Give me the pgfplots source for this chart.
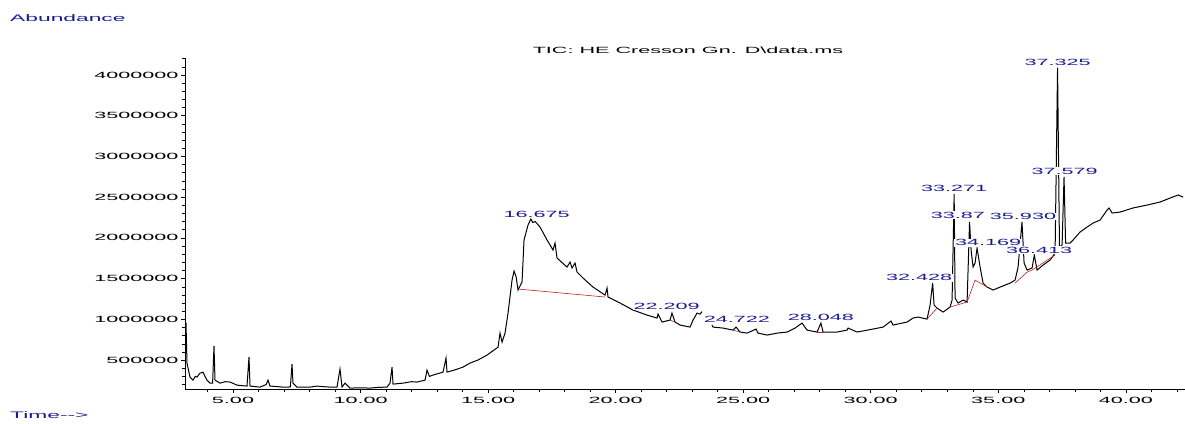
\documentclass[border=0pt]{standalone}
\usepackage{pgfplots}
\pgfplotsset{compat=1.18}
\usepackage{fontspec}
\setmainfont{Liberation Sans}
\newfontfamily\chem[FakeStretch=2.4]{Liberation Sans}
\definecolor{lblue}{RGB}{25,25,145}
\definecolor{bred}{RGB}{185,35,35}
\begin{document}
\begin{tikzpicture}
\useasboundingbox (-185pt,-34pt) rectangle (1000pt,389pt);
\begin{axis}[
  at={(0pt,0pt)}, anchor=south west,
  width=1000pt, height=331pt, scale only axis,
  xmin=3.118, xmax=42.32, ymin=145000, ymax=4208000,
  axis x line=bottom, axis y line=left,
  axis line style={-, line width=0.6pt},
  xtick={5,10,...,40},
  xticklabels={5.00,10.00,15.00,20.00,25.00,30.00,35.00,40.00},
  minor xtick={4,...,42},
  ytick={500000,1000000,...,4000000},
  yticklabels={500000,1000000,1500000,2000000,2500000,3000000,3500000,4000000},
  minor ytick={200000,300000,...,4200000},
  scaled y ticks=false,
  tick align=outside,
  major tick length=4pt, minor tick length=2.5pt,
  tick style={black, line width=0.5pt},
  /pgf/number format/assume math mode=true,
  ticklabel style={font=\chem\fontsize{9}{9}\selectfont},
  xticklabel style={yshift=-1pt},
  yticklabel style={xshift=1pt},
  unbounded coords=jump,
  clip=false,
]
\addplot[black, line width=1pt] coordinates {
(3.157,960000) (3.196,463000) (3.314,291000) (3.432,254000) (3.520,300000) (3.589,291000) (3.706,340000) (3.824,352000) (3.900,300000) (3.981,254000) (4.098,217000) (4.200,217000) (4.255,672000) (4.294,254000) (4.490,217000) (4.700,235000) (4.882,230000) (5.157,193000) (5.400,185000) (5.549,181000) (5.627,537000) (5.667,181000) (6.059,168000) (6.300,200000) (6.372,254000) (6.451,181000) (6.700,175000) (6.960,168000) (7.250,170000) (7.313,451000) (7.352,217000) (7.509,168000) (8.019,168000) (8.293,181000) (8.500,175000) (8.803,168000) (9.077,168000) (9.195,389000) (9.274,168000) (9.391,217000) (9.587,156000) (10.0,160000) (10.371,156000) (10.7,165000) (11.038,168000) (11.155,217000) (11.234,414000) (11.273,205000) (11.665,217000) (12.000,235000) (12.214,230000) (12.528,254000) (12.606,377000) (12.700,300000) (12.841,316000) (13.233,352000) (13.351,524000) (13.390,352000) (13.700,380000) (14.018,414000) (14.292,463000) (14.600,500000) (14.958,561000) (15.390,659000) (15.468,831000) (15.547,721000) (15.664,831000) (15.782,1077000) (15.939,1482000) (16.017,1593000) (16.100,1520000) (16.174,1360000) (16.331,1458000) (16.409,1974000) (16.566,2158000) (16.675,2231000) (16.750,2190000) (16.850,2200000) (17.036,2133000) (17.311,1974000) (17.546,1851000) (17.624,1937000) (17.703,1752000) (18.095,1642000) (18.213,1703000) (18.291,1630000) (18.409,1691000) (18.487,1581000) (18.722,1507000) (19.114,1396000) (19.585,1298000) (19.663,1384000) (19.702,1274000) (20.173,1200000) (20.683,1114000) (21.232,1052000) (21.624,1016000) (21.663,1065000) (21.820,967000) (22.133,991000) (22.209,1077000) (22.329,967000) (22.525,930000) (22.917,905000) (23.035,991000) (23.192,1077000) (23.310,1065000) (23.388,1095000)
(23.500,nan)
(23.780,930000) (23.819,905000) (24.211,893000) (24.603,868000) (24.722,905000) (24.878,844000) (25.153,831000) (25.505,881000) (25.584,831000) (25.937,807000) (26.329,831000) (26.721,844000) (27.034,893000) (27.309,954000) (27.505,868000) (27.897,844000) (28.048,954000) (28.132,844000) (28.681,844000) (29.073,868000) (29.112,893000) (29.465,844000) (30.092,881000) (30.484,905000) (30.798,979000) (30.876,930000) (31.425,967000) (31.660,1016000) (31.856,1028000) (32.209,1003000) (32.327,1175000) (32.428,1445000) (32.484,1175000) (32.601,1138000) (32.837,1089000) (33.111,1151000) (33.190,1237000) (33.271,2540000) (33.307,1261000) (33.425,1200000) (33.621,1237000) (33.778,1212000) (33.875,2195000) (33.935,1851000) (34.013,1642000) (34.091,1691000) (34.169,1875000) (34.288,1642000) (34.405,1445000) (34.562,1396000) (34.797,1360000) (35.072,1396000) (35.464,1445000) (35.660,1482000) (35.777,1642000) (35.930,2195000) (36.013,1691000) (36.130,1605000) (36.326,1630000) (36.413,1789000) (36.522,1605000) (36.758,1667000) (37.032,1728000) (37.228,1814000) (37.325,4090000) (37.400,1888000) (37.502,1912000) (37.579,2750000) (37.640,1937000) (37.816,1937000) (37.934,1974000) (38.208,2072000) (38.483,2133000) (38.718,2182000) (38.993,2219000) (39.267,2342000) (39.345,2367000) (39.463,2305000) (39.776,2317000) (40.286,2367000) (40.835,2403000) (41.345,2440000) (41.737,2489000) (42.051,2526000) (42.247,2500000)
};
\addplot[bred, line width=0.6pt] coordinates {(16.174,1372000) (19.590,1274000)};
\addplot[bred, line width=0.6pt] coordinates {(22.133,991000) (22.329,967000)};
\addplot[bred, line width=0.6pt] coordinates {(24.603,868000) (24.878,844000)};
\addplot[bred, line width=0.6pt] coordinates {(27.897,844000) (28.132,844000)};
\addplot[bred, line width=0.6pt] coordinates {(32.209,1003000) (32.601,1138000)};
\addplot[bred, line width=0.6pt] coordinates {(33.111,1151000) (33.778,1212000) (34.091,1482000) (34.562,1396000)};
\addplot[bred, line width=0.6pt] coordinates {(35.660,1445000) (36.130,1580000) (36.326,1605000) (37.228,1790000)};
\begin{scope}[every node/.style={font=\chem\fontsize{9}{9}\selectfont, text=lblue, fill=white, inner sep=0.6pt}]
\node at (axis cs:16.9,2290000) {16.675};
\node at (axis cs:22.0,1160000) {22.209};
\node at (axis cs:24.75,1000000) {24.722};
\node at (axis cs:28.05,1030000) {28.048};
\node at (axis cs:31.9,1510000) {32.428};
\node at (axis cs:33.27,2610000) {33.271};
\node at (axis cs:33.42,2280000) {33.87};
\node at (axis cs:35.97,2260000) {35.930};
\node at (axis cs:34.6,1940000) {34.169};
\node at (axis cs:36.6,1850000) {36.413};
\node at (axis cs:37.33,4150000) {37.325};
\node at (axis cs:37.6,2820000) {37.579};
\end{scope}
\end{axis}
\node[font=\chem\fontsize{9}{9}\selectfont, anchor=center] at (503pt,339pt) {TIC: HE Cresson Gn. D\textbackslash data.ms};
\node[font=\chem\fontsize{9.5}{9.5}\selectfont, text=lblue, anchor=west, inner sep=0pt] at (-175pt,371pt) {Abundance};
\node[font=\chem\fontsize{9.5}{9.5}\selectfont, text=lblue, anchor=west, inner sep=0pt] at (-175pt,-26pt) {Time-{}->};
\end{tikzpicture}
\end{document}
